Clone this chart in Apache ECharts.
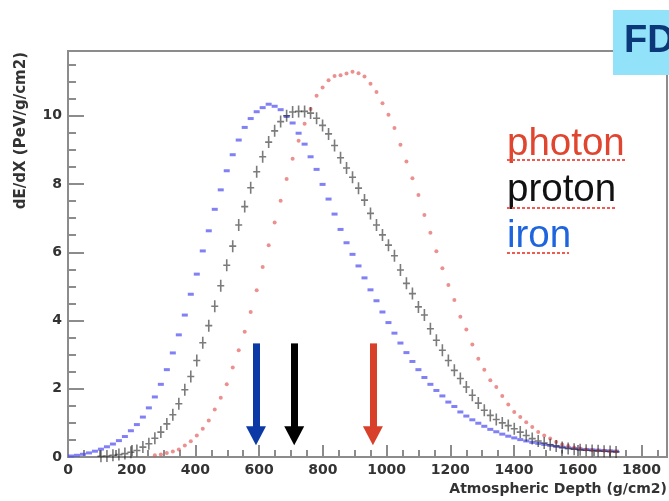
<!DOCTYPE html>
<html>
<head>
<meta charset="utf-8">
<script src="https://cdn.jsdelivr.net/npm/echarts@6/dist/echarts.min.js"></script>
<style>html,body{margin:0;padding:0;background:#fff}#c{width:669px;height:501px}</style>
</head>
<body>
<div id="c"></div>
<script>
// Bin centres (g/cm2)
const depths = [9.4,28.2,47.0,65.8,84.6,103.4,122.2,141.0,159.8,178.6,197.4,216.2,235.0,253.8,272.6,291.4,310.2,329.0,347.8,366.6,
385.4,404.2,423.0,441.8,460.6,479.4,498.2,517.0,535.8,554.6,573.4,592.2,611.0,629.8,648.6,667.4,686.2,705.0,723.8,742.6,
761.4,780.2,799.0,817.8,836.6,855.4,874.2,893.0,911.8,930.6,949.4,968.2,987.0,1005.8,1024.6,1043.4,1062.2,1081.0,1099.8,1118.6,
1137.4,1156.2,1175.0,1193.8,1212.6,1231.4,1250.2,1269.0,1287.8,1306.6,1325.4,1344.2,1363.0,1381.8,1400.6,1419.4,1438.2,1457.0,1475.8,1494.6,
1513.4,1532.2,1551.0,1569.8,1588.6,1607.4,1626.2,1645.0,1663.8,1682.6,1701.4,1720.2];

const iron = [0.03,0.05,0.08,0.12,0.17,0.23,0.30,0.38,0.48,0.60,0.77,0.95,1.17,1.44,1.76,2.13,2.56,3.05,3.58,4.16,
4.77,5.36,6.04,6.63,7.26,7.83,8.39,8.86,9.29,9.66,9.92,10.12,10.24,10.34,10.28,10.18,9.98,9.79,9.49,9.17,
8.80,8.43,7.99,7.56,7.12,6.67,6.28,5.94,5.60,5.25,4.90,4.58,4.25,3.94,3.63,3.34,3.06,2.80,2.56,2.33,
2.13,1.95,1.79,1.61,1.48,1.32,1.20,1.09,0.99,0.90,0.81,0.74,0.67,0.61,0.56,0.51,0.47,0.43,0.40,0.37,
0.34,0.31,0.29,0.27,0.25,0.23,0.22,0.21,0.20,0.19,0.18,0.17];

const proton = [null,null,null,null,null,0.02,0.03,0.05,0.07,0.10,0.14,0.19,0.29,0.39,0.55,0.73,0.97,1.24,1.56,1.97,
2.36,2.83,3.35,3.85,4.42,5.02,5.62,6.18,6.80,7.34,7.89,8.36,8.80,9.23,9.56,9.83,10.00,10.11,10.13,10.13,
10.08,9.93,9.72,9.47,9.13,8.77,8.47,8.20,7.88,7.53,7.14,6.80,6.51,6.21,5.90,5.48,5.09,4.79,4.40,4.16,
3.76,3.42,3.13,2.83,2.54,2.30,2.05,1.81,1.58,1.37,1.22,1.10,1.00,0.92,0.83,0.73,0.63,0.54,0.47,0.41,
0.36,0.32,0.28,0.25,0.23,0.21,0.20,0.19,0.18,0.17,0.16,0.15];

const photon = [null,null,null,null,null,null,null,null,null,null,null,null,null,null,0.05,0.07,0.12,0.16,0.22,0.34,
0.46,0.63,0.83,1.07,1.39,1.74,2.13,2.62,3.13,3.67,4.25,4.89,5.57,6.21,6.87,7.51,8.15,8.74,9.27,9.77,
10.20,10.59,10.83,11.04,11.17,11.19,11.24,11.29,11.25,11.15,10.94,10.70,10.37,10.03,9.64,9.15,8.66,8.17,7.68,7.09,
6.57,6.03,5.53,5.04,4.60,4.11,3.74,3.30,2.88,2.56,2.25,2.05,1.79,1.54,1.32,1.17,1.02,0.88,0.73,0.63,
0.54,0.44,0.37,0.32,0.28,0.25,0.22,0.20,0.19,0.18,0.17,0.16];

// Xmax arrows (g/cm2): iron, proton, photon
const xmaxDepths = [590, 710, 957];
const arrowTop = 3.33, arrowHead = 0.62;

const legendNames = ['photon', 'proton', 'iron'];
const xTitle = 'Atmospheric Depth (g/cm2)';
const yTitle = 'dE/dX (PeV/g/cm2)';
const boxLabel = 'FD';

function pairs(vals) {
  const out = [];
  for (let i = 0; i < vals.length; i++) if (vals[i] !== null) out.push([depths[i], vals[i]]);
  return out;
}
function arrow(x, color) {
  return {
    silent: true, animation: false,
    symbol: ['none', 'triangle'], symbolSize: [20, 19],
    label: { show: false },
    lineStyle: { color: color, width: 7, type: 'solid', opacity: 1 },
    itemStyle: { color: color },
    emphasis: { disabled: true },
    data: [[{ coord: [x, arrowTop] }, { coord: [x, arrowHead] }]]
  };
}

const chart = echarts.init(document.getElementById('c'), null, { renderer: 'canvas' });
const FONT = '"DejaVu Sans", Verdana, sans-serif';
const axisFont = { fontFamily: FONT, fontWeight: 'bold', fontSize: 14, color: '#333' };
const frame = '#8c8c8c';
const legFont = '38.5px "Liberation Sans", Arial, sans-serif';
chart.setOption({
  animation: false,
  backgroundColor: '#fff',
  grid: { left: 68, right: 2, top: 51, bottom: 44, show: true, borderColor: frame, borderWidth: 2 },
  xAxis: {
    type: 'value', min: 0, max: 1880, interval: 200,
    axisLine: { lineStyle: { color: frame, width: 2 } },
    axisTick: { inside: true, length: 12, lineStyle: { color: frame, width: 2 } },
    minorTick: { show: true, splitNumber: 4, length: 7, lineStyle: { color: frame, width: 2 } },
    splitLine: { show: false },
    axisLabel: Object.assign({ margin: 6, showMaxLabel: false, formatter: v => String(v) }, axisFont)
  },
  yAxis: {
    type: 'value', min: 0, max: 11.9, interval: 2,
    axisLine: { lineStyle: { color: frame, width: 2 } },
    axisTick: { inside: true, length: 16, lineStyle: { color: frame, width: 2 } },
    minorTick: { show: true, splitNumber: 4, length: 8, lineStyle: { color: frame, width: 2 } },
    splitLine: { show: false },
    axisLabel: Object.assign({ margin: 6, showMaxLabel: false, formatter: v => String(v) }, axisFont)
  },
  series: [
    {
      name: 'iron', type: 'scatter', data: pairs(iron),
      symbol: 'rect', symbolSize: [6, 3],
      itemStyle: { color: 'rgba(70,70,240,0.85)' },
      markLine: arrow(xmaxDepths[0], '#0b3aa6'), z: 2
    },
    {
      name: 'proton', type: 'scatter', data: pairs(proton),
      symbol: 'path://M-0.8,-6L0.8,-6L0.8,6L-0.8,6Z M-3.5,-0.8L3.5,-0.8L3.5,0.8L-3.5,0.8Z',
      symbolSize: [7, 12], symbolKeepAspect: false,
      itemStyle: { color: 'rgba(35,35,35,0.75)' },
      markLine: arrow(xmaxDepths[1], '#000000'), z: 3
    },
    {
      name: 'photon', type: 'scatter', data: pairs(photon),
      symbol: 'circle', symbolSize: 4,
      itemStyle: { color: 'rgba(225,80,80,0.8)' },
      markLine: arrow(xmaxDepths[2], '#d8402a'), z: 2
    }
  ],
  graphic: [
    { type: 'text', x: 667, y: 489, style: { text: xTitle, font: 'bold 14px ' + FONT, fill: '#333', align: 'right', verticalAlign: 'middle' } },
    { type: 'text', x: 21, y: 52, rotation: Math.PI / 2, style: { text: yTitle, font: 'bold 15px ' + FONT, fill: '#333', align: 'right', verticalAlign: 'middle' } },
    { type: 'text', x: 507, y: 125, style: { text: legendNames[0], font: legFont, fill: '#e0452f', verticalAlign: 'top' } },
    { type: 'text', x: 507, y: 171, style: { text: legendNames[1], font: legFont, fill: '#111111', verticalAlign: 'top' } },
    { type: 'text', x: 507, y: 216.5, style: { text: legendNames[2], font: legFont, fill: '#1e64de', verticalAlign: 'top' } },
    { type: 'line', shape: { x1: 507, y1: 160, x2: 625, y2: 160 }, style: { stroke: '#f05a50', lineWidth: 2, lineDash: [3, 2] } },
    { type: 'line', shape: { x1: 507, y1: 208, x2: 616, y2: 208 }, style: { stroke: '#f05a50', lineWidth: 2, lineDash: [3, 2] } },
    { type: 'line', shape: { x1: 507, y1: 253, x2: 569, y2: 253 }, style: { stroke: '#f05a50', lineWidth: 2, lineDash: [3, 2] } },
    { type: 'rect', z: 100, shape: { x: 613, y: 10, width: 60, height: 65 }, style: { fill: '#92e2fa' } },
    { type: 'text', z: 101, x: 624, y: 42, style: { text: boxLabel, font: 'bold 38px "Liberation Sans", Arial, sans-serif', fill: '#0b3878', verticalAlign: 'middle' } }
  ]
});
</script>
</body>
</html>
